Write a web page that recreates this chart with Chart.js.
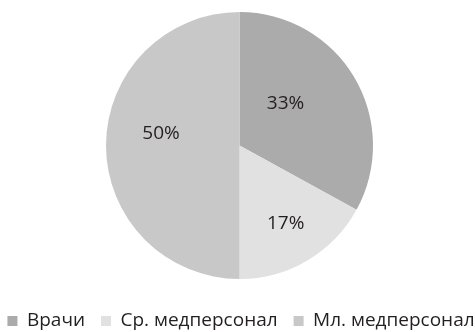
<!DOCTYPE html>
<html>
<head>
<meta charset="utf-8">
<script src="https://cdn.jsdelivr.net/npm/chart.js@4.4.1/dist/chart.umd.min.js"></script>
<style>
html,body{margin:0;padding:0;background:#fff;}
#wrap{width:475px;height:332px;position:relative;}
</style>
</head>
<body>
<div id="wrap"><canvas id="c" width="475" height="332"></canvas></div>
<script>
const categories = ['Врачи', 'Ср. медперсонал', 'Мл. медперсонал'];
const shares = [33, 17, 50];
const colors = ['#ababab', '#e1e1e1', '#c8c8c8'];

const FONT = '"Open Sans", "Noto Sans", sans-serif';
const FONT_SIZE = 19;
const LEGEND_PAD = 16;

// label placement (radius fraction, angle shift in degrees) per slice
const labelPlacement = [
  {r: 0.467, shift: -11.8},
  {r: 0.68, shift: 0},
  {r: 0.595, shift: 8.7}
];

const layoutPlugin = {
  id: 'fixLayout',
  afterLayout(chart) {
    const ca = chart.chartArea;
    ca.left = 4; ca.right = 475; ca.width = ca.right - ca.left;
    ca.top = 12; ca.bottom = 279; ca.height = ca.bottom - ca.top;
    const lg = chart.legend;
    if (lg) {
      lg.maxWidth = 800;
      lg.fit();
      lg.left = -24; lg.right = 506; lg.width = lg.right - lg.left;
      const h = lg.height;
      lg.top = 321 - LEGEND_PAD - FONT_SIZE / 2;
      lg.bottom = lg.top + h;
    }
  }
};

const labelPlugin = {
  id: 'pctLabels',
  afterDatasetsDraw(chart) {
    const ctx = chart.ctx;
    const meta = chart.getDatasetMeta(0);
    ctx.save();
    ctx.font = FONT_SIZE + 'px ' + FONT;
    ctx.fillStyle = '#231f20';
    ctx.textAlign = 'center';
    ctx.textBaseline = 'middle';
    meta.data.forEach((arc, i) => {
      const p = arc.getProps(['x','y','startAngle','endAngle','outerRadius']);
      const mid = (p.startAngle + p.endAngle) / 2 + labelPlacement[i].shift * Math.PI / 180;
      const rr = p.outerRadius * labelPlacement[i].r;
      ctx.fillText(shares[i] + '%', p.x + Math.cos(mid) * rr, p.y + Math.sin(mid) * rr);
    });
    ctx.restore();
  }
};

new Chart(document.getElementById('c'), {
  type: 'pie',
  data: {
    labels: categories,
    datasets: [{
      data: shares,
      backgroundColor: colors,
      borderWidth: 0,
      radius: 133.5
    }]
  },
  options: {
    responsive: false,
    animation: false,
    layout: { padding: 0 },
    plugins: {
      tooltip: { enabled: false },
      legend: {
        position: 'bottom',
        labels: {
          boxWidth: 10,
          boxHeight: 10,
          padding: LEGEND_PAD,
          color: '#231f20',
          font: { family: FONT, size: FONT_SIZE }
        }
      }
    }
  },
  plugins: [layoutPlugin, labelPlugin]
});
</script>
</body>
</html>
